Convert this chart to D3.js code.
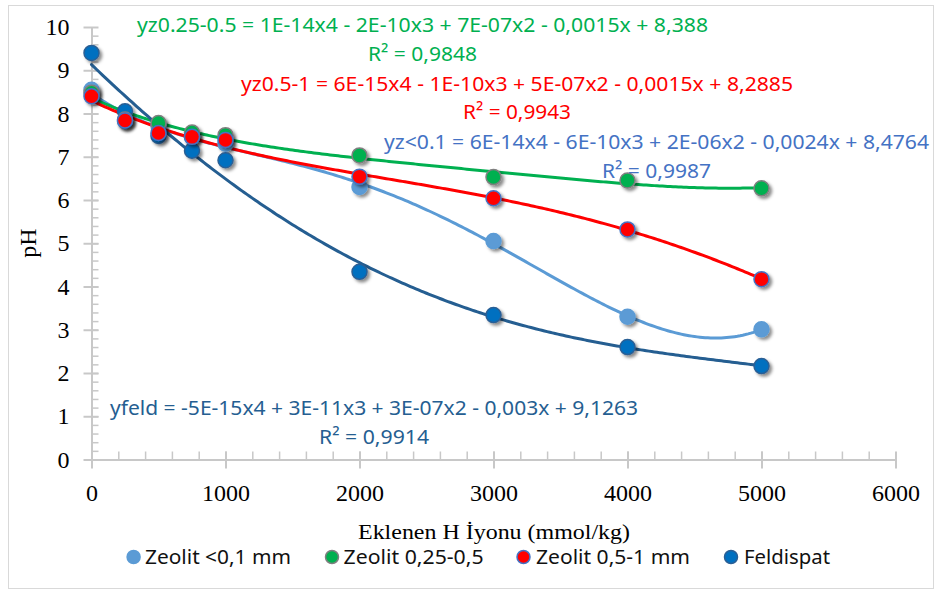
<!DOCTYPE html>
<html>
<head>
<meta charset="utf-8">
<script src="https://cdn.jsdelivr.net/npm/d3@7"></script>
<style>
    html, body { margin: 0; padding: 0; background: #fff; }
    .eq { font-family: "Noto Sans", sans-serif; font-size: 20px; }
    .legend-text { font-family: "Noto Sans", sans-serif; font-size: 20px; fill: #111; }
    .title { font-family: "Liberation Serif", "Times New Roman", serif; fill: #000; }
</style>
</head>
<body>
<div id="chart"></div>
<script>
// -------------------------------------
// Data
// -------------------------------------
var hIon = [0, 250, 500, 750, 1000, 2000, 3000, 4000, 5000]
var zeolit01 = [8.55, 7.82, 7.72, 7.45, 7.30, 6.30, 5.05, 3.30, 3.01]
var zeolit025 = [8.48, 7.86, 7.78, 7.56, 7.50, 7.03, 6.53, 6.45, 6.27]
var zeolit05 = [8.40, 7.84, 7.55, 7.46, 7.39, 6.54, 6.04, 5.32, 4.17]
var feldispat = [9.40, 8.05, 7.48, 7.14, 6.92, 4.34, 3.34, 2.60, 2.16]

var seriesNames = ["Zeolit <0,1 mm", "Zeolit 0,25-0,5", "Zeolit 0,5-1 mm", "Feldispat"]
var xTicks = [0, 1000, 2000, 3000, 4000, 5000, 6000]
var yTicks = [0, 1, 2, 3, 4, 5, 6, 7, 8, 9, 10]
var equations = [
    "yz<0.1 = 6E-14x4 - 6E-10x3 + 2E-06x2 - 0,0024x + 8,4764",
    "yz0.25-0.5 = 1E-14x4 - 2E-10x3 + 7E-07x2 - 0,0015x + 8,388",
    "yz0.5-1 = 6E-15x4 - 1E-10x3 + 5E-07x2 - 0,0015x + 8,2885",
    "yfeld = -5E-15x4 + 3E-11x3 + 3E-07x2 - 0,003x + 9,1263"
]
var rSquared = ["R² = 0,9987", "R² = 0,9848", "R² = 0,9943", "R² = 0,9914"]

// -------------------------------------
// Styles and layout
// -------------------------------------
var series = [
    { name: seriesNames[0], values: zeolit01, fill: "#5b9bd5", stroke: "#5b9bd5", line: "#5b9bd5", text: "#4472c4" },
    { name: seriesNames[1], values: zeolit025, fill: "#00b050", stroke: "#7f7f7f", line: "#00b050", text: "#00b050" },
    { name: seriesNames[2], values: zeolit05, fill: "#ff0000", stroke: "#4472c4", line: "#ff0000", text: "#ff0000" },
    { name: seriesNames[3], values: feldispat, fill: "#0070c0", stroke: "#2a5f95", line: "#255e91", text: "#255e91" }
]
// label boxes: centre x, centre y of equation, width, centre y of R², width
var eqLayout = [
    { cx: 656.5, eqY: 142, eqW: 545, rY: 171, rW: 109 },
    { cx: 422.5, eqY: 25, eqW: 571, rY: 54, rW: 109 },
    { cx: 517, eqY: 84, eqW: 552, rY: 112, rW: 108 },
    { cx: 374, eqY: 408, eqW: 528, rY: 437, rW: 110 }
]
var legendLayout = [
    { mx: 133.6, tx: 145, tw: 146 },
    { mx: 332, tx: 343.6, tw: 140 },
    { mx: 523.5, tx: 536, tw: 154 },
    { mx: 731, tx: 744, tw: 86 }
]

var width = 936, height = 591
var axisColor = "#c8c8c8"
var serif = '"Liberation Serif", "Times New Roman", serif'

var svg = d3.select("#chart").append("svg")
    .attr("width", width)
    .attr("height", height)

var defs = svg.append("defs")
defs.append("filter")
    .attr("id", "shadow")
    .attr("x", "-50%").attr("y", "-50%")
    .attr("width", "200%").attr("height", "200%")
    .append("feDropShadow")
    .attr("dx", 2.5).attr("dy", 2.5)
    .attr("stdDeviation", 1.6)
    .attr("flood-color", "#000")
    .attr("flood-opacity", 0.45)

// chart border
svg.append("rect")
    .attr("x", 8.5).attr("y", 5.5)
    .attr("width", 925).attr("height", 583)
    .attr("fill", "none")
    .attr("stroke", "#d9d9d9")

var x = d3.scaleLinear().domain([0, 6000]).range([91.5, 895.5])
var y = d3.scaleLinear().domain([0, 10]).range([459.5, 27])

// -------------------------------------
// Axes
// -------------------------------------
var xMinor = svg.append("g")
    .attr("transform", `translate(0,${y(0)})`)
    .call(d3.axisBottom(x).tickValues(d3.range(200, 6000, 200)).tickSizeInner(-8).tickSizeOuter(0).tickFormat(""))
xMinor.select(".domain").remove()
xMinor.selectAll("line").attr("stroke", axisColor).attr("stroke-width", 1.5)

var xAxis = svg.append("g")
    .attr("transform", `translate(0,${y(0)})`)
    .call(d3.axisBottom(x).tickValues(xTicks).tickFormat(d3.format("d")).tickSize(0).tickPadding(24.5).tickSizeOuter(0))
xAxis.select(".domain").attr("stroke", axisColor).attr("stroke-width", 2)
xAxis.selectAll(".tick line").attr("y1", -8).attr("y2", 9).attr("stroke", axisColor).attr("stroke-width", 2)

var yMinor = svg.append("g")
    .attr("transform", `translate(${x(0)},0)`)
    .call(d3.axisLeft(y).tickValues(d3.range(0.2, 10, 0.2)).tickSizeInner(-7).tickSizeOuter(0).tickFormat(""))
yMinor.select(".domain").remove()
yMinor.selectAll("line").attr("stroke", axisColor).attr("stroke-width", 1.5)

var yAxis = svg.append("g")
    .attr("transform", `translate(${x(0)},0)`)
    .call(d3.axisLeft(y).tickValues(yTicks).tickFormat(d3.format("d")).tickSize(0).tickPadding(22).tickSizeOuter(0))
yAxis.select(".domain").attr("stroke", axisColor).attr("stroke-width", 2)
yAxis.selectAll(".tick line").attr("x1", -8).attr("x2", 7).attr("stroke", axisColor).attr("stroke-width", 2)

svg.selectAll(".tick text")
    .style("font-family", serif)
    .style("font-size", "24px")
    .attr("fill", "#000")

// axis titles
svg.append("text")
    .attr("class", "title")
    .attr("x", 494).attr("y", 539)
    .attr("text-anchor", "middle")
    .style("font-size", "22px")
    .attr("textLength", 272)
    .attr("lengthAdjust", "spacingAndGlyphs")
    .text("Eklenen H İyonu (mmol/kg)")

svg.append("text")
    .attr("class", "title")
    .attr("transform", "translate(36,243) rotate(-90)")
    .attr("text-anchor", "middle")
    .style("font-size", "24px")
    .text("pH")

// -------------------------------------
// Polynomial trendlines (order 4 least squares, like the spreadsheet)
// -------------------------------------
function polyFit(xs, ys, order) {
    var n = order + 1
    var A = [], b = []
    for (var i = 0; i < n; i++) {
        A.push([])
        for (var j = 0; j < n; j++) {
            A[i].push(d3.sum(xs, v => Math.pow(v, i + j)))
        }
        b.push(d3.sum(xs, (v, k) => ys[k] * Math.pow(v, i)))
    }
    // gaussian elimination
    for (var c = 0; c < n; c++) {
        var p = c
        for (var r = c + 1; r < n; r++) if (Math.abs(A[r][c]) > Math.abs(A[p][c])) p = r
        var tmp = A[c]; A[c] = A[p]; A[p] = tmp
        var tb = b[c]; b[c] = b[p]; b[p] = tb
        for (var r = c + 1; r < n; r++) {
            var f = A[r][c] / A[c][c]
            for (var k = c; k < n; k++) A[r][k] -= f * A[c][k]
            b[r] -= f * b[c]
        }
    }
    var coef = new Array(n).fill(0)
    for (var r = n - 1; r >= 0; r--) {
        var s = b[r]
        for (var k = r + 1; k < n; k++) s -= A[r][k] * coef[k]
        coef[r] = s / A[r][r]
    }
    return coef
}

var xsScaled = hIon.map(v => v / 1000)
var samples = d3.range(0, 5001, 20)

var line = d3.line()
    .x(d => x(d[0]))
    .y(d => y(d[1]))

series.forEach(function (s) {
    var coef = polyFit(xsScaled, s.values, 4)
    var pts = samples.map(function (v) {
        var t = v / 1000
        return [v, coef.reduce((acc, c, i) => acc + c * Math.pow(t, i), 0)]
    })
    svg.append("path")
        .datum(pts)
        .attr("fill", "none")
        .attr("stroke", s.line)
        .attr("stroke-width", 3)
        .attr("stroke-linecap", "round")
        .attr("d", line)
})

// -------------------------------------
// Markers
// -------------------------------------
var drawOrder = [0, 3, 1, 2]
drawOrder.forEach(function (idx) {
    var s = series[idx]
    svg.append("g")
        .attr("filter", "url(#shadow)")
        .selectAll("circle")
        .data(s.values)
        .enter()
        .append("circle")
        .attr("cx", (d, i) => x(hIon[i]))
        .attr("cy", d => y(d))
        .attr("r", 7.5)
        .attr("fill", s.fill)
        .attr("stroke", s.stroke)
        .attr("stroke-width", 1.5)
})

// -------------------------------------
// Trendline equations
// -------------------------------------
series.forEach(function (s, i) {
    var L = eqLayout[i]
    svg.append("text")
        .attr("class", "eq")
        .attr("x", L.cx).attr("y", L.eqY + 7)
        .attr("text-anchor", "middle")
        .attr("fill", s.text)
        .attr("textLength", L.eqW)
        .attr("lengthAdjust", "spacingAndGlyphs")
        .text(equations[i])
    svg.append("text")
        .attr("class", "eq")
        .attr("x", L.cx).attr("y", L.rY + 7)
        .attr("text-anchor", "middle")
        .attr("fill", s.text)
        .attr("textLength", L.rW)
        .attr("lengthAdjust", "spacingAndGlyphs")
        .text(rSquared[i])
})

// -------------------------------------
// Legend
// -------------------------------------
var legendY = 557
series.forEach(function (s, i) {
    var L = legendLayout[i]
    svg.append("circle")
        .attr("cx", L.mx).attr("cy", legendY)
        .attr("r", 6.5)
        .attr("fill", s.fill)
        .attr("stroke", s.stroke)
        .attr("stroke-width", 1.5)
    svg.append("text")
        .attr("class", "legend-text")
        .attr("x", L.tx).attr("y", legendY + 7)
        .attr("textLength", L.tw)
        .attr("lengthAdjust", "spacingAndGlyphs")
        .text(s.name)
})
</script>
</body>
</html>
